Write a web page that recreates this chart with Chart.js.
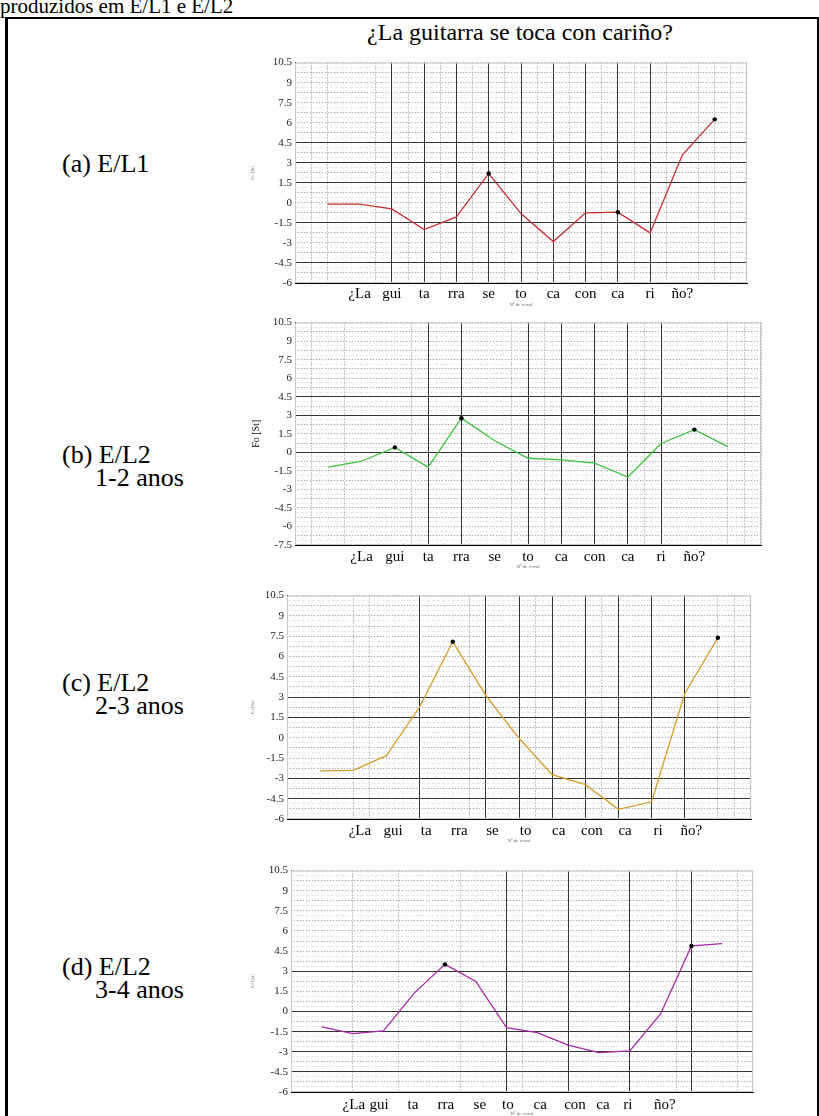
<!DOCTYPE html>
<html>
<head>
<meta charset="utf-8">
<script src="https://cdn.jsdelivr.net/npm/chart.js@4.4.1/dist/chart.umd.min.js"></script>
<style>
  html, body { margin: 0; padding: 0; background: #fff; }
  body { width: 819px; height: 1116px; position: relative; overflow: hidden;
         font-family: "Liberation Serif", "Times New Roman", serif; color: #000; }
  .caption { position: absolute; left: 0; top: -6px; font-size: 21px; white-space: nowrap; }
  .frame { position: absolute; left: 5px; top: 17px; width: 809px; height: 1120px;
           border-top: 2px solid #000; border-left: 3px solid #000; border-right: 2px solid #000; }
  .title { position: absolute; left: 320px; width: 400px; top: 18px; text-align: center; font-size: 24px; line-height: 28px; }
  .side { position: absolute; left: 62px; font-size: 26px; line-height: 23px; white-space: nowrap; }
  .side span { display: block; padding-left: 33px; }
  canvas { position: absolute; }
</style>
</head>
<body>
<div class="caption">produzidos em E/L1 e E/L2</div>
<div class="frame"></div>
<div class="title">¿La guitarra se toca con cariño?</div>
<div class="side" style="top:152px">(a) E/L1</div>
<div class="side" style="top:443px">(b) E/L2<span>1-2 anos</span></div>
<div class="side" style="top:671px">(c) E/L2<span>2-3 anos</span></div>
<div class="side" style="top:955px">(d) E/L2<span>3-4 anos</span></div>
<canvas id="chartA"></canvas>
<canvas id="chartB"></canvas>
<canvas id="chartC"></canvas>
<canvas id="chartD"></canvas>
<script>
// sílabas do enunciado
const syllables = ["¿La", "gui", "ta", "rra", "se", "to", "ca", "con", "ca", "ri", "ño?"];

// (a) E/L1 — nº de vocal e F0 em semitons
const posA = [1, 2, 3, 4, 5, 6, 7, 8, 9, 10, 11, 12, 13];
const f0A = [-0.1, -0.1, -0.45, -2.0, -1.05, 2.2, -0.8, -2.9, -0.75, -0.7, -2.25, 3.6, 6.25];
const marksA = [5, 9, 12];
const labelPosA = [2, 3, 4, 5, 6, 7, 8, 9, 10, 11, 12];

// (b) E/L2 1-2 anos
const posB = [1, 2, 3, 4, 5, 6, 7, 8, 9, 10, 11, 12, 13];
const f0B = [-1.2, -0.72, 0.4, -1.2, 2.76, 0.94, -0.48, -0.61, -0.88, -2.0, 0.72, 1.84, 0.46];
const marksB = [2, 4, 11];
const labelPosB = [2, 3, 4, 5, 6, 7, 8, 9, 10, 11, 12];

// (c) E/L2 2-3 anos
const posC = [1, 2, 3, 4, 5, 6, 7, 8, 9, 10, 11, 12, 13];
const f0C = [-2.45, -2.41, -1.32, 2.27, 7.1, 3.12, -0.04, -2.73, -3.46, -5.29, -4.73, 3.25, 7.39];
const marksC = [4, 12];
const labelPosC = [2.2, 3.2, 4.2, 5.2, 6.2, 7.2, 8.2, 9.2, 10.2, 11.2, 12.2];

// (d) E/L2 3-4 anos
const posD = [1, 2, 3, 4, 5, 6, 7, 8, 9, 10, 11, 12, 13, 14];
const f0D = [-1.15, -1.65, -1.45, 1.37, 3.51, 2.24, -1.21, -1.58, -2.51, -3.06, -2.93, -0.18, 4.89, 5.06];
const marksD = [4, 12];
const labelPosD = [2.04, 2.86, 3.96, 5.03, 6.13, 7.04, 8.09, 9.22, 10.13, 10.94, 12.14];

const serif = "'Liberation Serif', 'Times New Roman', serif";

const panels = [
  { id: "chartA", pos: posA, values: f0A, marks: marksA, labelPos: labelPosA, color: "#c83030",
    box: { left: 295, right: 747, top: 61, bottom: 283 }, xMax: 14, yMin: -6, labelPad: 2,
    solidX: [3, 4, 5, 6, 7, 8, 9, 10, 11],
    dotX: [0.5, 1, 2.5, 3.5, 4.5, 5.5, 6.5, 7.5, 8.5, 9.5, 10.5, 11.5, 12.5, 13, 13.5],
    solidY: [4.5, 3, 1.5, -1.5, -4.5], yTitle: "Fo [St]", yTitleSize: 5 },
  { id: "chartB", pos: posB, values: f0B, marks: marksB, labelPos: labelPosB, color: "#3cc03c",
    box: { left: 295, right: 761, top: 321, bottom: 545 }, xMax: 14, yMin: -7.5, labelPad: 3,
    solidX: [4, 5, 7, 8, 9, 10, 11],
    dotX: [0.5, 1.5, 3.5, 6.5, 7.5, 10.5, 13, 13.5, 14],
    solidY: [4.5, 3, 0], yTitle: "Fo [St]", yTitleSize: 10 },
  { id: "chartC", pos: posC, values: f0C, marks: marksC, labelPos: labelPosC, color: "#d89a2a",
    box: { left: 287, right: 751, top: 594, bottom: 819 }, xMax: 14, yMin: -6, labelPad: 3,
    solidX: [4, 6, 7, 8, 9, 10, 11, 12],
    dotX: [2, 2.5, 5.5, 7.5, 9.5, 13, 13.5],
    solidY: [3, 1.5, -3, -4.5], yTitle: "Fo [St]", yTitleSize: 5 },
  { id: "chartD", pos: posD, values: f0D, marks: marksD, labelPos: labelPosD, color: "#a828a8",
    box: { left: 291, right: 753, top: 869, bottom: 1092 }, xMax: 15, yMin: -6, labelPad: 4,
    solidX: [7, 9, 11, 13],
    dotX: [2, 3.5, 5.5, 7.5, 12.5, 14.5],
    solidY: [3, 0, -1.5, -3, -4.5], yTitle: "Fo [St]", yTitleSize: 5 },
];

// contorno leve da área do gráfico
const framePlugin = {
  id: "frame",
  beforeDatasetsDraw(chart) {
    const { ctx, chartArea: a } = chart;
    ctx.save();
    ctx.strokeStyle = "#c8c8c8";
    ctx.lineWidth = 1;
    ctx.strokeRect(a.left + 0.5, a.top + 0.5, a.width - 1, a.height - 1);
    ctx.restore();
  },
};

const fixedTicks = (vals) => (axis) => { axis.ticks = vals.map(v => ({ value: v })); };

// eixo só de grade, sem rótulos nem espaço próprio
function gridAxis(position, min, max, extra) {
  const horizontal = position === "bottom";
  return Object.assign({
    type: "linear", min, max, position,
    afterFit: s => { if (horizontal) s.height = 0; else s.width = 0; },
    ticks: { display: false },
    border: { display: false },
  }, extra);
}

function buildPanel(p) {
  const canvasLeft = 250, padTop = 8, padRight = 12, padBottom = 34;
  const c = document.getElementById(p.id);
  const w = p.box.right + padRight - canvasLeft;
  const h = p.box.bottom - p.box.top + padTop + padBottom;
  c.width = w; c.height = h;
  c.style.width = w + "px"; c.style.height = h + "px";
  c.style.left = canvasLeft + "px";
  c.style.top = (p.box.top - padTop) + "px";
  const yw = p.box.left - canvasLeft;

  new Chart(c, {
    type: "line",
    data: {
      datasets: [{
        data: p.pos.map((x, i) => ({ x, y: p.values[i] })),
        borderColor: p.color,
        borderWidth: 1.3,
        tension: 0,
        pointRadius: ctx => p.marks.includes(ctx.dataIndex) ? 2.2 : 0,
        pointBackgroundColor: "#000",
        pointBorderWidth: 0,
      }],
    },
    options: {
      responsive: false,
      animation: false,
      devicePixelRatio: 1,
      layout: { padding: { top: padTop, right: padRight, left: 0, bottom: 0 } },
      plugins: { legend: { display: false }, tooltip: { enabled: false } },
      scales: {
        x: {
          type: "linear", min: 0, max: p.xMax, position: "bottom",
          afterBuildTicks: fixedTicks(p.labelPos),
          afterFit: s => { s.height = padBottom; },
          grid: { display: false, drawTicks: false },
          border: { display: true, color: "#000", width: 1 },
          ticks: {
            autoSkip: false, maxRotation: 0, padding: p.labelPad, color: "#000",
            font: { family: serif, size: 15 },
            callback: (v, i) => syllables[i],
          },
          title: { display: true, text: "Nº de vocal", color: "#666",
                   font: { family: serif, size: 5 }, padding: { top: 0, bottom: 9 } },
        },
        xf: gridAxis("bottom", 0, p.xMax, {
          ticks: { display: false, stepSize: 0.25 },
          grid: { color: "#ececec", lineWidth: 1, drawTicks: false, z: -3 },
          border: { display: false, dash: [2, 3] },
        }),
        xd: gridAxis("bottom", 0, p.xMax, {
          afterBuildTicks: fixedTicks(p.dotX),
          grid: { color: "#999", lineWidth: 1, drawTicks: false, z: -2 },
          border: { display: false, dash: [1, 2] },
        }),
        xs: gridAxis("bottom", 0, p.xMax, {
          afterBuildTicks: fixedTicks(p.solidX),
          grid: { color: "#333", lineWidth: 1, drawTicks: false, z: -1 },
        }),
        yf: gridAxis("left", p.yMin, 10.5, {
          ticks: { display: false, stepSize: 0.375 },
          grid: { color: "#e8e8e8", lineWidth: 1, drawTicks: false, z: -3 },
          border: { display: false, dash: [3, 2] },
        }),
        yd: gridAxis("left", p.yMin, 10.5, {
          ticks: { display: false, stepSize: 0.75 },
          grid: { color: "#aaa", lineWidth: 1, drawTicks: false, z: -2 },
          border: { display: false, dash: [1, 2] },
        }),
        y: {
          type: "linear", min: p.yMin, max: 10.5, position: "left",
          afterFit: s => { s.width = yw; },
          ticks: { stepSize: 1.5, padding: 3, color: "#222",
                   font: { family: serif, size: 11 }, callback: v => String(v) },
          grid: { drawTicks: false, z: -1,
                  color: ctx => (ctx.tick && p.solidY.includes(ctx.tick.value)) ? "#333" : "rgba(0,0,0,0)" },
          border: { display: true, color: "#000", width: 1 },
          title: { display: true, text: p.yTitle, color: p.yTitleSize > 6 ? "#000" : "#777",
                   font: { family: serif, size: p.yTitleSize }, padding: 0 },
        },
      },
    },
    plugins: [framePlugin],
  });
}

panels.forEach(buildPanel);
</script>
</body>
</html>
